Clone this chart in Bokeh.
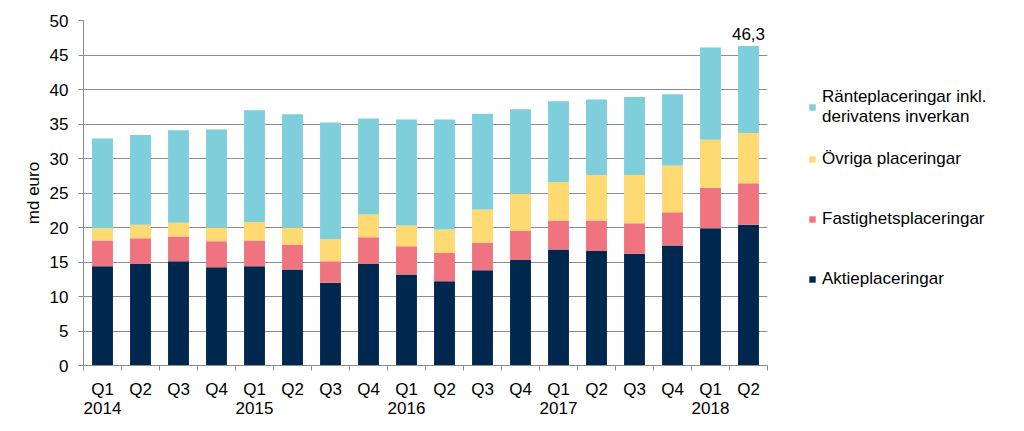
from bokeh.plotting import figure
from bokeh.layouts import row
from bokeh.models import (Range1d, FixedTicker, Legend, LegendItem, ColumnDataSource)
from bokeh.embed import file_html
from bokeh.resources import INLINE
from bokeh.core.properties import value

# ---- data ----
quarters = ["Q1", "Q2", "Q3", "Q4"] * 4 + ["Q1", "Q2"]
years = ["2014", "", "", "", "2015", "", "", "", "2016", "", "", "", "2017", "", "", "", "2018", ""]
aktie = [14.4, 14.7, 15.1, 14.25, 14.4, 13.9, 12.0, 14.7, 13.2, 12.2, 13.8, 15.3, 16.8, 16.6, 16.2, 17.4, 19.9, 20.4]
fastighet = [3.7, 3.75, 3.6, 3.75, 3.7, 3.6, 3.1, 3.9, 4.1, 4.1, 4.0, 4.2, 4.2, 4.4, 4.4, 4.8, 5.85, 6.0]
ovriga = [1.8, 1.95, 2.0, 2.0, 2.7, 2.5, 3.2, 3.3, 3.0, 3.4, 4.8, 5.4, 5.6, 6.6, 7.0, 6.8, 6.95, 7.3]
ranta = [13.0, 13.0, 13.4, 14.2, 16.2, 16.4, 16.9, 13.9, 15.35, 15.95, 13.9, 12.25, 11.7, 10.95, 11.3, 10.3, 13.4, 12.6]
series_names = ["Aktieplaceringar", "Fastighetsplaceringar", "Övriga placeringar",
                "Ränteplaceringar inkl.\nderivatens inverkan"]
colors = ["#00284E", "#F07480", "#FFD972", "#7ECEDC"]
y_ticks = [0, 5, 10, 15, 20, 25, 30, 35, 40, 45, 50]
label_index = 17  # bar with value label

FONT = "Liberation Sans"
n = len(quarters)
xs = list(range(n))
labels = {i: (quarters[i] + ("\n" + years[i] if years[i] else "")) for i in xs}

H = 421
p = figure(width=775, height=H, output_backend="svg", toolbar_location=None,
           x_range=Range1d(-0.5, n - 0.5), y_range=Range1d(0, 50),
           min_border_left=83, min_border_right=8, min_border_top=20, min_border_bottom=56)
p.outline_line_color = None
p.background_fill_color = "white"
p.border_fill_color = "white"

src = ColumnDataSource(dict(x=xs, aktie=aktie, fastighet=fastighet, ovriga=ovriga, ranta=ranta))
keys = ["aktie", "fastighet", "ovriga", "ranta"]
renderers = p.vbar_stack(keys, x="x", width=0.55, source=src, color=colors, line_color=None)

# value label
tot = aktie[label_index] + fastighet[label_index] + ovriga[label_index] + ranta[label_index]
p.text(x=[label_index], y=[tot], text=[f"{tot:.1f}".replace(".", ",")],
       text_font=value(FONT), text_font_size="17px", text_color="#000000",
       text_align="center", text_baseline="bottom", y_offset=-6)

# axes
p.xaxis.ticker = FixedTicker(ticks=xs, minor_ticks=[i - 0.5 for i in range(n + 1)])
p.xaxis.major_label_overrides = labels
p.xaxis.major_tick_line_color = None
p.xaxis.minor_tick_line_color = "#8C8C8C"
p.xaxis.minor_tick_in = 0
p.xaxis.minor_tick_out = 5
p.xaxis.axis_line_color = "#8C8C8C"
p.xaxis.major_label_standoff = 8
p.xaxis.major_label_text_font = FONT
p.xaxis.major_label_text_font_size = "17px"
p.xaxis.major_label_text_color = "#000000"
p.xaxis.major_label_text_line_height = 1.05

p.yaxis.ticker = FixedTicker(ticks=y_ticks)
p.yaxis.minor_tick_line_color = None
p.yaxis.major_tick_in = 0
p.yaxis.major_tick_out = 5
p.yaxis.major_tick_line_color = "#8C8C8C"
p.yaxis.axis_line_color = "#8C8C8C"
p.yaxis.major_label_standoff = 10
p.yaxis.major_label_text_font = FONT
p.yaxis.major_label_text_font_size = "17px"
p.yaxis.major_label_text_color = "#000000"
p.yaxis.axis_label = "md euro"
p.yaxis.axis_label_text_font = FONT
p.yaxis.axis_label_text_font_size = "17px"
p.yaxis.axis_label_text_font_style = "normal"
p.yaxis.axis_label_text_color = "#000000"
p.yaxis.axis_label_standoff = 4

p.xgrid.grid_line_color = None
p.ygrid.grid_line_color = "#8C8C8C"
p.ygrid.grid_line_width = 1

# legend panel (separate figure, right of the chart)
q = figure(width=241, height=H, output_backend="svg", toolbar_location=None,
           x_range=Range1d(0, 1), y_range=Range1d(0, 1),
           min_border_left=0, min_border_right=0, min_border_top=0, min_border_bottom=0)
q.axis.visible = False
q.grid.visible = False
q.outline_line_color = None
# placeholder glyphs (outside the visible range) that give the legend its swatches
leg_r = [q.vbar(x=[5], top=[1], width=0.5, color=c, line_color=None) for c in colors]

common = dict(orientation="vertical", glyph_width=8, glyph_height=8, label_standoff=6,
              padding=0, margin=0, border_line_color=None, background_fill_alpha=0,
              label_text_font=FONT, label_text_font_size="17px", label_text_color="#000000",
              label_text_line_height=1.2)
legend1 = Legend(items=[LegendItem(label=series_names[3], renderers=[leg_r[3]])],
                 location=(33, H - 128 - 55), **common)
legend2 = Legend(items=[LegendItem(label=series_names[i], renderers=[leg_r[i]]) for i in [2, 1, 0]],
                 location=(33, H - 289 - 56), spacing=40, **common)
q.add_layout(legend1, "center")
q.add_layout(legend2, "center")

layout = row(p, q)
open("out.html", "w").write(file_html(layout, INLINE))
